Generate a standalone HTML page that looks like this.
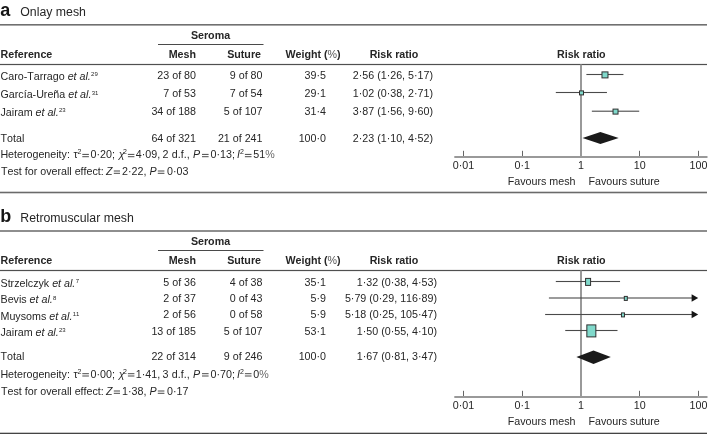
<!DOCTYPE html>
<html><head><meta charset="utf-8"><style>
html,body{margin:0;padding:0;background:#fff;width:709px;height:434px;overflow:hidden}
svg{display:block;will-change:transform;font-kerning:none;font-family:"Liberation Sans",sans-serif;font-size:10.7px;fill:#262626}
</style></head><body>
<svg width="709" height="434" viewBox="0 0 709 434" fill="#262626">
<text x="0.3" y="16" font-weight="bold" font-size="18" fill="#151515">a</text>
<text x="20.3" y="16" font-size="12.3">Onlay mesh</text>
<rect x="0" y="24.0" width="707" height="1.6" fill="#707070"/>
<text x="210.5" y="39.2" text-anchor="middle" font-weight="bold">Seroma</text>
<rect x="158" y="44.0" width="105.5" height="1" fill="#4a4a4a"/>
<text x="0.6" y="57.6" font-weight="bold">Reference</text>
<text x="196" y="57.6" text-anchor="end" font-weight="bold">Mesh</text>
<text x="261" y="57.6" text-anchor="end" font-weight="bold">Suture</text>
<text x="313" y="57.6" text-anchor="middle" font-weight="bold">Weight (<tspan font-weight="normal" fill="#555">%</tspan>)</text>
<text x="394" y="57.6" text-anchor="middle" font-weight="bold">Risk ratio</text>
<text x="581.3" y="57.6" text-anchor="middle" font-weight="bold">Risk ratio</text>
<rect x="0" y="63.9" width="707" height="1.2" fill="#505050"/>
<text x="0.5" y="80">Caro-Tarrago <tspan font-style="italic">et al.</tspan><tspan font-size="6.0" dx="0.3" dy="-3.6">29</tspan></text>
<text x="196" y="78.5" text-anchor="end">23 of 80</text>
<text x="262.5" y="78.5" text-anchor="end">9 of 80</text>
<text x="326" y="78.5" text-anchor="end">39·5</text>
<text x="433" y="78.5" text-anchor="end">2·56 (1·26, 5·17)</text>
<text x="0.5" y="98.3">García-Ureña <tspan font-style="italic">et al.</tspan><tspan font-size="6.0" dx="0.3" dy="-3.6">31</tspan></text>
<text x="196" y="96.8" text-anchor="end">7 of 53</text>
<text x="262.5" y="96.8" text-anchor="end">7 of 54</text>
<text x="326" y="96.8" text-anchor="end">29·1</text>
<text x="433" y="96.8" text-anchor="end">1·02 (0·38, 2·71)</text>
<text x="0.5" y="116">Jairam <tspan font-style="italic">et al.</tspan><tspan font-size="6.0" dx="0.3" dy="-3.6">23</tspan></text>
<text x="196" y="114.5" text-anchor="end">34 of 188</text>
<text x="262.5" y="114.5" text-anchor="end">5 of 107</text>
<text x="326" y="114.5" text-anchor="end">31·4</text>
<text x="433" y="114.5" text-anchor="end">3·87 (1·56, 9·60)</text>
<rect x="580.0" y="64.5" width="2" height="92.5" fill="#999"/>
<rect x="586.3967695256569" y="73.95" width="37.020799881112225" height="1.1" fill="#4a4a4a"/>
<rect x="601.9840979620711" y="71.9" width="6" height="6" fill="#80d9cb" stroke="#303030" stroke-width="1"/>
<rect x="555.8122863012376" y="91.95" width="51.12465953763376" height="1.1" fill="#4a4a4a"/>
<rect x="579.5052600910127" y="90.9" width="4" height="4" fill="#80d9cb" stroke="#303030" stroke-width="1"/>
<rect x="591.8460701533246" y="110.65" width="47.36236478775004" height="1.1" fill="#4a4a4a"/>
<rect x="613.028019194861" y="109.10000000000001" width="5" height="5" fill="#80d9cb" stroke="#303030" stroke-width="1"/>
<text x="0.5" y="141.5">Total</text>
<text x="196" y="141.5" text-anchor="end">64 of 321</text>
<text x="262.5" y="141.5" text-anchor="end">21 of 241</text>
<text x="326" y="141.5" text-anchor="end">100·0</text>
<text x="433" y="141.5" text-anchor="end">2·23 (1·10, 4·52)</text>
<rect x="82.3" y="153.89999999999998" width="6.6000000000000085" height="1" fill="#4a4a4a"/>
<rect x="82.3" y="156.2" width="6.6000000000000085" height="1" fill="#4a4a4a"/>
<rect x="127.9" y="153.89999999999998" width="6.5" height="1" fill="#4a4a4a"/>
<rect x="127.9" y="156.2" width="6.5" height="1" fill="#4a4a4a"/>
<rect x="202" y="153.89999999999998" width="6.599999999999994" height="1" fill="#4a4a4a"/>
<rect x="202" y="156.2" width="6.599999999999994" height="1" fill="#4a4a4a"/>
<rect x="244.9" y="153.89999999999998" width="6.599999999999994" height="1" fill="#4a4a4a"/>
<rect x="244.9" y="156.2" width="6.599999999999994" height="1" fill="#4a4a4a"/>
<text><tspan x="0.4" y="158.2">Heterogeneity:</tspan><tspan x="73.6" y="158.2">τ</tspan><tspan x="77.39999999999999" y="154.2" font-size="7">2</tspan><tspan x="90.6" y="158.2">0·20;</tspan><tspan x="118.75" y="158.2" font-style="italic">χ</tspan><tspan x="123.0" y="154.2" font-size="7">2</tspan><tspan x="135.75" y="158.2">4·09,</tspan><tspan x="162.5" y="158.2">2</tspan><tspan x="171.8" y="158.2">d.f.,</tspan><tspan x="193" y="158.2" font-style="italic">P</tspan><tspan x="210.5" y="158.2">0·13;</tspan><tspan x="237.1" y="158.2" font-style="italic">I</tspan><tspan x="240.0" y="154.2" font-size="7">2</tspan><tspan x="253.3" y="158.2">51<tspan fill="#6a6a6a">%</tspan></tspan></text>
<rect x="113.8" y="170.5" width="6.200000000000003" height="1" fill="#4a4a4a"/>
<rect x="113.8" y="172.8" width="6.200000000000003" height="1" fill="#4a4a4a"/>
<rect x="157.8" y="170.5" width="6.599999999999994" height="1" fill="#4a4a4a"/>
<rect x="157.8" y="172.8" width="6.599999999999994" height="1" fill="#4a4a4a"/>
<text><tspan x="1.0" y="174.8">Test for overall effect:</tspan><tspan x="106.05" y="174.8" font-style="italic">Z</tspan><tspan x="122" y="174.8">2·22,</tspan><tspan x="149.6" y="174.8" font-style="italic">P</tspan><tspan x="167.1" y="174.8">0·03</tspan></text>
<path d="M582.5,138 L600.4,132 L618.7,138 L600.4,144 Z" fill="#1a1a1a"/>
<rect x="454.3" y="156.0" width="253.2" height="2" fill="#999"/>
<rect x="463.0" y="150.8" width="1" height="5.199999999999989" fill="#666"/>
<text x="463.5" y="169" text-anchor="middle">0·01</text>
<rect x="522.0" y="150.8" width="1" height="5.199999999999989" fill="#666"/>
<text x="522.25" y="169" text-anchor="middle">0·1</text>
<text x="581.0" y="169" text-anchor="middle">1</text>
<rect x="639.0" y="150.8" width="1" height="5.199999999999989" fill="#666"/>
<text x="639.75" y="169" text-anchor="middle">10</text>
<rect x="698.0" y="150.8" width="1" height="5.199999999999989" fill="#666"/>
<text x="698.5" y="169" text-anchor="middle">100</text>
<text x="575.5" y="185.3" text-anchor="end">Favours mesh</text>
<text x="588.5" y="185.3">Favours suture</text>
<rect x="0" y="191.7" width="707" height="1.6" fill="#6a6a6a"/>
<text x="0.3" y="222" font-weight="bold" font-size="18" fill="#151515">b</text>
<text x="20.3" y="222" font-size="12.3">Retromuscular mesh</text>
<rect x="0" y="230.0" width="707" height="2" fill="#8e8e8e"/>
<text x="210.5" y="245.2" text-anchor="middle" font-weight="bold">Seroma</text>
<rect x="158" y="250.0" width="105.5" height="1" fill="#4a4a4a"/>
<text x="0.6" y="263.6" font-weight="bold">Reference</text>
<text x="196" y="263.6" text-anchor="end" font-weight="bold">Mesh</text>
<text x="261" y="263.6" text-anchor="end" font-weight="bold">Suture</text>
<text x="313" y="263.6" text-anchor="middle" font-weight="bold">Weight (<tspan font-weight="normal" fill="#555">%</tspan>)</text>
<text x="394" y="263.6" text-anchor="middle" font-weight="bold">Risk ratio</text>
<text x="581.3" y="263.6" text-anchor="middle" font-weight="bold">Risk ratio</text>
<rect x="0" y="269.9" width="707" height="1.2" fill="#505050"/>
<text x="0.5" y="287">Strzelczyk <tspan font-style="italic">et al.</tspan><tspan font-size="6.0" dx="0.3" dy="-3.6">7</tspan></text>
<text x="196" y="285.5" text-anchor="end">5 of 36</text>
<text x="262.5" y="285.5" text-anchor="end">4 of 38</text>
<text x="326" y="285.5" text-anchor="end">35·1</text>
<text x="437" y="285.5" text-anchor="end">1·32 (0·38, 4·53)</text>
<text x="0.5" y="303.3">Bevis <tspan font-style="italic">et al.</tspan><tspan font-size="6.0" dx="0.3" dy="-3.6">8</tspan></text>
<text x="196" y="301.8" text-anchor="end">2 of 37</text>
<text x="262.5" y="301.8" text-anchor="end">0 of 43</text>
<text x="326" y="301.8" text-anchor="end">5·9</text>
<text x="437" y="301.8" text-anchor="end">5·79 (0·29, 116·89)</text>
<text x="0.5" y="319.7">Muysoms <tspan font-style="italic">et al.</tspan><tspan font-size="6.0" dx="0.3" dy="-3.6">11</tspan></text>
<text x="196" y="318.2" text-anchor="end">2 of 56</text>
<text x="262.5" y="318.2" text-anchor="end">0 of 58</text>
<text x="326" y="318.2" text-anchor="end">5·9</text>
<text x="437" y="318.2" text-anchor="end">5·18 (0·25, 105·47)</text>
<text x="0.5" y="336">Jairam <tspan font-style="italic">et al.</tspan><tspan font-size="6.0" dx="0.3" dy="-3.6">23</tspan></text>
<text x="196" y="334.5" text-anchor="end">13 of 185</text>
<text x="262.5" y="334.5" text-anchor="end">5 of 107</text>
<text x="326" y="334.5" text-anchor="end">53·1</text>
<text x="437" y="334.5" text-anchor="end">1·50 (0·55, 4·10)</text>
<rect x="580.0" y="270.5" width="2" height="126.5" fill="#999"/>
<rect x="555.8122863012376" y="280.95" width="64.23348306701632" height="1.1" fill="#4a4a4a"/>
<rect x="585.5837184583437" y="278.4" width="5" height="7" fill="#80d9cb" stroke="#303030" stroke-width="1"/>
<rect x="548.9158823765637" y="297.45" width="144.08411762343633" height="1.1" fill="#4a4a4a"/>
<path d="M691.6,294.3 L698.2,298 L691.6,301.7 Z" fill="#151515"/>
<rect x="624.3073656189869" y="296.4" width="3" height="4" fill="#80d9cb" stroke="#303030" stroke-width="1"/>
<rect x="545.1289755094822" y="313.95" width="147.8710244905178" height="1.1" fill="#4a4a4a"/>
<path d="M691.6,310.8 L698.2,314.5 L691.6,318.2 Z" fill="#151515"/>
<rect x="621.4668733850324" y="312.9" width="3" height="4" fill="#80d9cb" stroke="#303030" stroke-width="1"/>
<rect x="565.2463080077869" y="329.95" width="52.25474357449764" height="1.1" fill="#4a4a4a"/>
<rect x="586.8453614695213" y="324.9" width="9" height="12" fill="#80d9cb" stroke="#303030" stroke-width="1"/>
<text x="0.5" y="360.3">Total</text>
<text x="196" y="360.3" text-anchor="end">22 of 314</text>
<text x="262.5" y="360.3" text-anchor="end">9 of 246</text>
<text x="326" y="360.3" text-anchor="end">100·0</text>
<text x="437" y="360.3" text-anchor="end">1·67 (0·81, 3·47)</text>
<rect x="82.3" y="373.2" width="6.6000000000000085" height="1" fill="#4a4a4a"/>
<rect x="82.3" y="375.5" width="6.6000000000000085" height="1" fill="#4a4a4a"/>
<rect x="127.9" y="373.2" width="6.5" height="1" fill="#4a4a4a"/>
<rect x="127.9" y="375.5" width="6.5" height="1" fill="#4a4a4a"/>
<rect x="202" y="373.2" width="6.599999999999994" height="1" fill="#4a4a4a"/>
<rect x="202" y="375.5" width="6.599999999999994" height="1" fill="#4a4a4a"/>
<rect x="244.9" y="373.2" width="6.599999999999994" height="1" fill="#4a4a4a"/>
<rect x="244.9" y="375.5" width="6.599999999999994" height="1" fill="#4a4a4a"/>
<text><tspan x="0.4" y="377.5">Heterogeneity:</tspan><tspan x="73.6" y="377.5">τ</tspan><tspan x="77.39999999999999" y="373.5" font-size="7">2</tspan><tspan x="90.6" y="377.5">0·00;</tspan><tspan x="118.75" y="377.5" font-style="italic">χ</tspan><tspan x="123.0" y="373.5" font-size="7">2</tspan><tspan x="135.75" y="377.5">1·41,</tspan><tspan x="162.5" y="377.5">3</tspan><tspan x="171.8" y="377.5">d.f.,</tspan><tspan x="193" y="377.5" font-style="italic">P</tspan><tspan x="210.5" y="377.5">0·70;</tspan><tspan x="237.1" y="377.5" font-style="italic">I</tspan><tspan x="240.0" y="373.5" font-size="7">2</tspan><tspan x="253.3" y="377.5">0<tspan fill="#6a6a6a">%</tspan></tspan></text>
<rect x="113.8" y="390.5" width="6.200000000000003" height="1" fill="#4a4a4a"/>
<rect x="113.8" y="392.8" width="6.200000000000003" height="1" fill="#4a4a4a"/>
<rect x="157.8" y="390.5" width="6.599999999999994" height="1" fill="#4a4a4a"/>
<rect x="157.8" y="392.8" width="6.599999999999994" height="1" fill="#4a4a4a"/>
<text><tspan x="1.0" y="394.8">Test for overall effect:</tspan><tspan x="106.05" y="394.8" font-style="italic">Z</tspan><tspan x="122" y="394.8">1·38,</tspan><tspan x="149.6" y="394.8" font-style="italic">P</tspan><tspan x="167.1" y="394.8">0·17</tspan></text>
<path d="M576.4,357.1 L593.5,350.4 L610.8,357.1 L593.5,363.9 Z" fill="#1a1a1a"/>
<rect x="454.3" y="396.0" width="253.2" height="2" fill="#999"/>
<rect x="463.0" y="390.8" width="1" height="5.199999999999989" fill="#666"/>
<text x="463.5" y="409" text-anchor="middle">0·01</text>
<rect x="522.0" y="390.8" width="1" height="5.199999999999989" fill="#666"/>
<text x="522.25" y="409" text-anchor="middle">0·1</text>
<text x="581.0" y="409" text-anchor="middle">1</text>
<rect x="639.0" y="390.8" width="1" height="5.199999999999989" fill="#666"/>
<text x="639.75" y="409" text-anchor="middle">10</text>
<rect x="698.0" y="390.8" width="1" height="5.199999999999989" fill="#666"/>
<text x="698.5" y="409" text-anchor="middle">100</text>
<text x="575.5" y="425.4" text-anchor="end">Favours mesh</text>
<text x="588.5" y="425.4">Favours suture</text>
<rect x="0" y="432.7" width="707" height="1.4" fill="#444"/>
</svg>
</body></html>
